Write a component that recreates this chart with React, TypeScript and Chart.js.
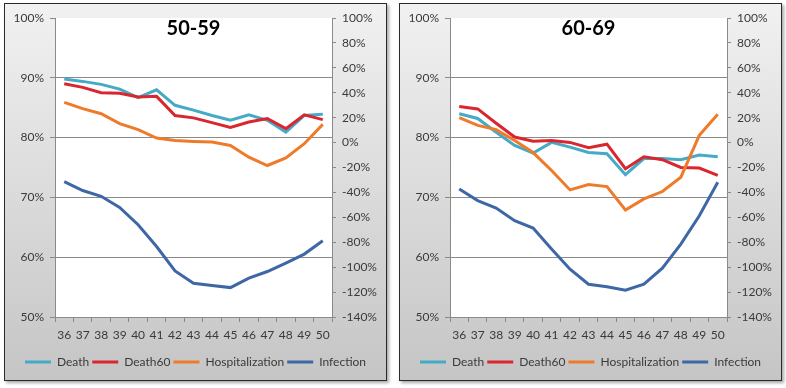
import React, { useEffect, useRef } from "react";
import { Chart, registerables } from "chart.js";

Chart.register(...registerables);

const weeks = ["36", "37", "38", "39", "40", "41", "42", "43", "44", "45", "46", "47", "48", "49", "50"];

const death5059 = [89.8, 89.4, 88.9, 88.1, 86.7, 88.0, 85.4, 84.6, 83.7, 82.9, 83.8, 82.9, 80.9, 83.7, 83.9];
const death60_5059 = [89.0, 88.4, 87.5, 87.4, 86.8, 86.9, 83.7, 83.3, 82.5, 81.7, 82.6, 83.2, 81.5, 83.8, 83.0];
const hosp5059 = [32.3, 27.3, 23.2, 15.2, 10.4, 3.6, 1.7, 0.9, 0.4, -2.3, -11.7, -18.4, -12.3, -0.9, 14.6];
const inf5059 = [-31.3, -38.5, -43.1, -52.0, -65.9, -83.4, -103.0, -112.9, -114.8, -116.4, -108.8, -103.5, -96.7, -89.5, -78.8];

const death6069 = [84.0, 83.2, 80.9, 78.7, 77.4, 79.2, 78.4, 77.5, 77.3, 73.8, 76.5, 76.5, 76.3, 77.1, 76.8];
const death60_6069 = [85.2, 84.8, 82.4, 80.1, 79.4, 79.5, 79.2, 78.3, 78.9, 74.8, 76.8, 76.3, 75.0, 74.9, 73.7];
const hosp6069 = [20.0, 13.8, 10.4, 1.7, -8.0, -22.4, -38.0, -33.7, -35.3, -54.1, -45.2, -39.3, -27.8, 5.8, 22.7];
const inf6069 = [-37.2, -46.6, -52.5, -62.7, -68.6, -85.5, -101.6, -113.7, -115.8, -118.5, -113.7, -100.8, -81.5, -58.7, -31.8];

const seriesNames = ["Death", "Death60", "Hospitalization", "Infection"];
const seriesColors = ["#45aac6", "#d9262f", "#ef7b2a", "#3d67a5"];

const FONT = "Lato, 'Open Sans', sans-serif";
const GRID = "#8a8a8a";
const TEXT = "#3a3a3a";

type PanelProps = { title: string; left: number; series: number[][] };

function Panel({ title, left, series }: PanelProps) {
  const ref = useRef<HTMLCanvasElement | null>(null);

  useEffect(() => {
    if (!ref.current) return;
    const plotBg = {
      id: "plotBg",
      beforeDraw(chart: any) {
        const { ctx, chartArea: a } = chart;
        ctx.save();
        ctx.fillStyle = "#ffffff";
        ctx.fillRect(a.left, a.top, a.right - a.left, a.bottom - a.top);
        ctx.restore();
      },
      afterDraw(chart: any) {
        const { ctx, chartArea: a } = chart;
        ctx.save();
        ctx.font = `bold 20px ${FONT}`;
        ctx.fillStyle = "#000";
        ctx.textAlign = "center";
        ctx.textBaseline = "middle";
        ctx.fillText(title, (a.left + a.right) / 2, a.top + 11);
        ctx.restore();
      },
    };
    const chart = new Chart(ref.current, {
      type: "line",
      data: {
        labels: weeks,
        datasets: series.map((d, i) => ({
          label: seriesNames[i],
          data: d,
          borderColor: seriesColors[i],
          backgroundColor: seriesColors[i],
          borderWidth: 3,
          pointRadius: 0,
          tension: 0,
          yAxisID: i < 2 ? "y" : "y1",
          order: 4 - i,
        })),
      },
      options: {
        animation: false,
        responsive: false,
        devicePixelRatio: 1,
        layout: { padding: { top: 14, left: 0, right: 0, bottom: 2 } },
        plugins: {
          tooltip: { enabled: false },
          legend: {
            position: "bottom",
            labels: {
              boxWidth: 26,
              boxHeight: 3,
              padding: 3,
              color: TEXT,
              font: { family: FONT, size: 12 },
              sort: (a: any, b: any) => a.datasetIndex - b.datasetIndex,
              generateLabels: (c: any) =>
                (Chart.defaults.plugins.legend.labels.generateLabels as any)(c).map((l: any) => ({ ...l, lineWidth: 0 })),
            },
          },
        },
        scales: {
          x: {
            type: "category",
            offset: true,
            grid: { offset: true, drawOnChartArea: false, tickLength: 5, tickColor: GRID, color: GRID },
            border: { color: GRID },
            ticks: { color: TEXT, font: { family: FONT, size: 12 }, maxRotation: 0, autoSkip: false, padding: 6 },
            afterFit: (s: any) => { s.height = 36; },
          },
          y: {
            position: "left",
            min: 50,
            max: 100,
            ticks: { stepSize: 10, color: TEXT, font: { family: FONT, size: 12 }, padding: 6, callback: (v: any) => `${v}%` },
            grid: {
              tickLength: 5,
              tickColor: GRID,
              color: (c: any) => (c.tick && c.tick.value === 100 ? "rgba(0,0,0,0)" : GRID),
            },
            border: { color: GRID },
            afterFit: (s: any) => { s.width = 50; },
          },
          y1: {
            position: "right",
            min: -140,
            max: 100,
            ticks: { stepSize: 20, color: TEXT, font: { family: FONT, size: 12 }, padding: 6, callback: (v: any) => `${v}%` },
            grid: { drawOnChartArea: false, tickLength: 4, tickColor: GRID, color: GRID },
            border: { color: GRID },
            afterFit: (s: any) => { s.width = 54; },
          },
        },
      },
      plugins: [plotBg],
    } as any);
    return () => chart.destroy();
  }, [title, series]);

  return (
    <div
      style={{
        position: "absolute",
        left,
        top: 3,
        width: 381,
        height: 376,
        border: "1px solid #2a2a2a",
        background: "linear-gradient(#f1f1f1, #c5c5c5)",
        boxShadow: "2px 2px 3px rgba(0,0,0,0.35)",
      }}
    >
      <canvas ref={ref} width={381} height={376} style={{ display: "block" }} />
    </div>
  );
}

const panel1 = [death5059, death60_5059, hosp5059, inf5059];
const panel2 = [death6069, death60_6069, hosp6069, inf6069];

export default function App() {
  return (
    <div style={{ position: "fixed", left: 0, top: 0, width: 786, height: 388, background: "#ffffff" }}>
      <Panel title="50-59" left={4} series={panel1} />
      <Panel title="60-69" left={399} series={panel2} />
    </div>
  );
}
